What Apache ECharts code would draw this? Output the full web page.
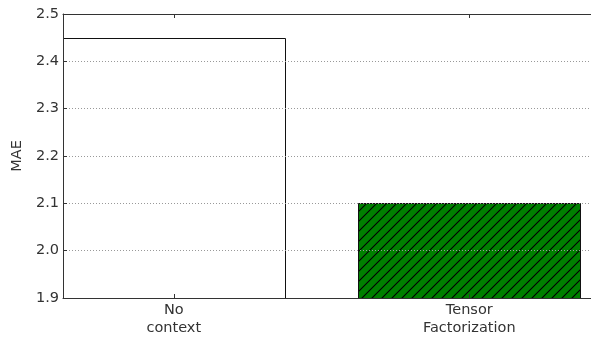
<!DOCTYPE html>
<html>
<head>
<meta charset="utf-8">
<script src="https://cdn.jsdelivr.net/npm/echarts@6/dist/echarts.min.js"></script>
<style>html,body{margin:0;padding:0;background:#fff;}#c{width:591px;height:340px;}</style>
</head>
<body>
<div id="c"></div>
<script>
const categories = ['No\ncontext', 'Tensor\nFactorization'];
const positions = [0, 1];
const maeValues = [2.45, 2.10];
const barFills = ['white', 'hatch'];
const yLabel = 'MAE';

const tile = document.createElement('canvas');
tile.width = 10; tile.height = 10;
const g = tile.getContext('2d');
g.fillStyle = '#008000';
g.fillRect(0, 0, 10, 10);
g.strokeStyle = '#000';
g.lineWidth = 1.1;
g.beginPath();
g.moveTo(-1, 11); g.lineTo(11, -1);
g.moveTo(-1, 1); g.lineTo(1, -1);
g.moveTo(9, 11); g.lineTo(11, 9);
g.stroke();
const hatch = { image: tile, repeat: 'repeat' };

const font = 'DejaVu Sans';
const fs = 14.5;
const chart = echarts.init(document.getElementById('c'), null, { renderer: 'canvas' });
const data = positions.map((p, i) => [p, maeValues[i], i]);

chart.setOption({
  animation: false,
  grid: { left: 63, right: 0, top: 14, bottom: 42, containLabel: false },
  xAxis: [{
    type: 'value', min: -0.375, max: 1.412, position: 'bottom', z: 5,
    axisLine: { show: true, onZero: false, lineStyle: { color: '#333', width: 1 } },
    axisTick: { show: true, inside: true, length: 4, customValues: positions, lineStyle: { color: '#333' } },
    axisLabel: { show: true, customValues: positions, color: '#333', fontFamily: font, fontSize: fs, lineHeight: 18, margin: 3,
      formatter: v => categories[positions.indexOf(Math.round(v))] || '' },
    splitLine: { show: false }
  }, {
    type: 'value', min: -0.375, max: 1.412, position: 'top', z: 5,
    axisLine: { show: true, onZero: false, lineStyle: { color: '#333', width: 1 } },
    axisTick: { show: true, inside: true, length: 4, customValues: positions, lineStyle: { color: '#333' } },
    axisLabel: { show: false },
    splitLine: { show: false }
  }],
  yAxis: {
    type: 'value', min: 1.9, max: 2.5, interval: 0.1, z: 5,
    name: yLabel, nameLocation: 'middle', nameGap: 33, nameRotate: 90,
    nameTextStyle: { color: '#333', fontFamily: font, fontSize: fs },
    axisLine: { show: true, onZero: false, lineStyle: { color: '#333', width: 1 } },
    axisTick: { show: true, inside: true, length: 4, lineStyle: { color: '#333' } },
    axisLabel: { color: '#333', fontFamily: font, fontSize: fs, margin: 4, formatter: v => v.toFixed(1) },
    splitLine: { show: true, lineStyle: { color: '#999', type: [1, 2], width: 1 } }
  },
  series: [{
    type: 'custom', xAxisIndex: 0, yAxisIndex: 0, z: 2,
    data: data,
    renderItem: function (params, api) {
      const x = api.value(0), y = api.value(1), i = api.value(2);
      const p0 = api.coord([x - 0.375, y]);
      const p1 = api.coord([x + 0.375, 1.9]);
      const x0 = Math.round(p0[0]) + 0.5, y0 = Math.round(p0[1]) + 0.5;
      const x1 = Math.round(p1[0]) + 0.5, y1 = Math.round(p1[1]) + 0.5;
      return {
        type: 'rect',
        shape: { x: x0, y: y0, width: x1 - x0, height: y1 - y0 },
        style: { fill: barFills[i] === 'hatch' ? hatch : '#fff', stroke: '#111', lineWidth: 1 }
      };
    }
  }]
});
</script>
</body>
</html>
